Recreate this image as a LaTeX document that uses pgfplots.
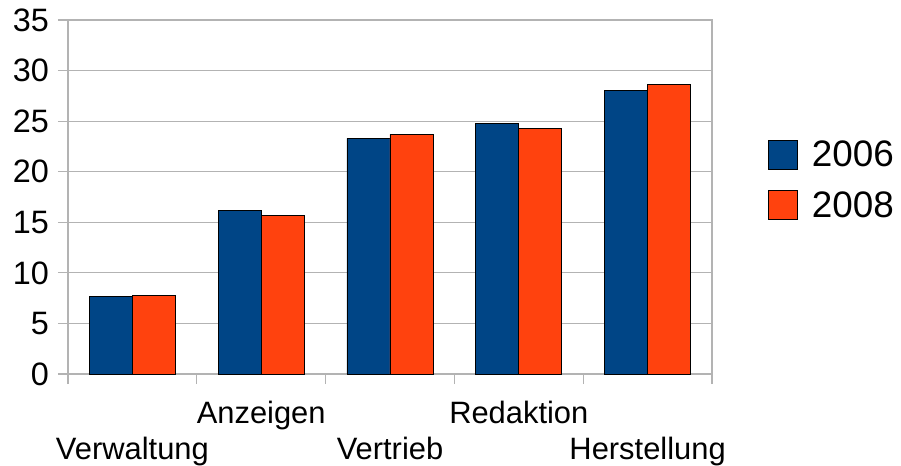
\documentclass[border=0pt]{standalone}
\usepackage{pgfplots}
\pgfplotsset{compat=1.18}
\usepackage{fontspec}
\setmainfont{Liberation Sans}
\definecolor{blue06}{HTML}{004586}
\definecolor{orange08}{HTML}{FF420E}
\definecolor{gridgray}{HTML}{B3B3B3}

\begin{document}
\begin{tikzpicture}
\begin{axis}[
  scale only axis, width=644bp, height=354bp,
  xmin=-0.5, xmax=4.5, ymin=0, ymax=35,
  ytick={0,5,10,15,20,25,30,35},
  xtick={-0.5,0.5,1.5,2.5,3.5,4.5}, xticklabels={},
  extra x ticks={0,1,2,3,4},
  extra x tick labels={\raisebox{-36bp}{Verwaltung}, Anzeigen, \raisebox{-36bp}{Vertrieb}, Redaktion, \raisebox{-36bp}{Herstellung}},
  extra x tick style={major tick length=0pt, grid=none,
    tick label style={anchor=base, inner sep=0pt, yshift=-49bp, font=\fontsize{31}{37}\selectfont}},
  ymajorgrids, grid style={gridgray, line width=1.2bp},
  axis line style={gridgray, line width=1.2bp},
  tick style={gridgray, line width=1.2bp},
  tick align=outside, major tick length=10bp,
  xtick pos=bottom, ytick pos=left,
  /pgf/number format/assume math mode=true,
  yticklabel style={anchor=east, inner sep=0pt, xshift=-9bp, font=\fontsize{32.5}{38}\selectfont},
  ybar=0pt, bar width=43bp,
  legend image code/.code={\draw[#1] (0bp,-14.5bp) rectangle (29bp,14.5bp);},
  legend style={draw=none, fill=none, at={(1,0.664)}, anchor=north west, xshift=56bp,
    inner sep=0pt, row sep=19bp, font=\fontsize{37}{42}\selectfont,
    /tikz/every odd column/.style={column sep=12bp}},
  legend cell align=left,
]
\addplot[fill=blue06, draw=black, line width=0.8bp] coordinates {
(0, 7.7) (1, 16.2) (2, 23.3) (3, 24.8) (4, 28.0)
};
\addlegendentry{2006}
\addplot[fill=orange08, draw=black, line width=0.8bp] coordinates {
(0, 7.8) (1, 15.7) (2, 23.7) (3, 24.3) (4, 28.6)
};
\addlegendentry{2008}
\end{axis}
\pgfresetboundingbox
\path (current axis.south west) ++(-68bp,-92bp) rectangle ++(901bp,466bp);
\end{tikzpicture}
\end{document}
